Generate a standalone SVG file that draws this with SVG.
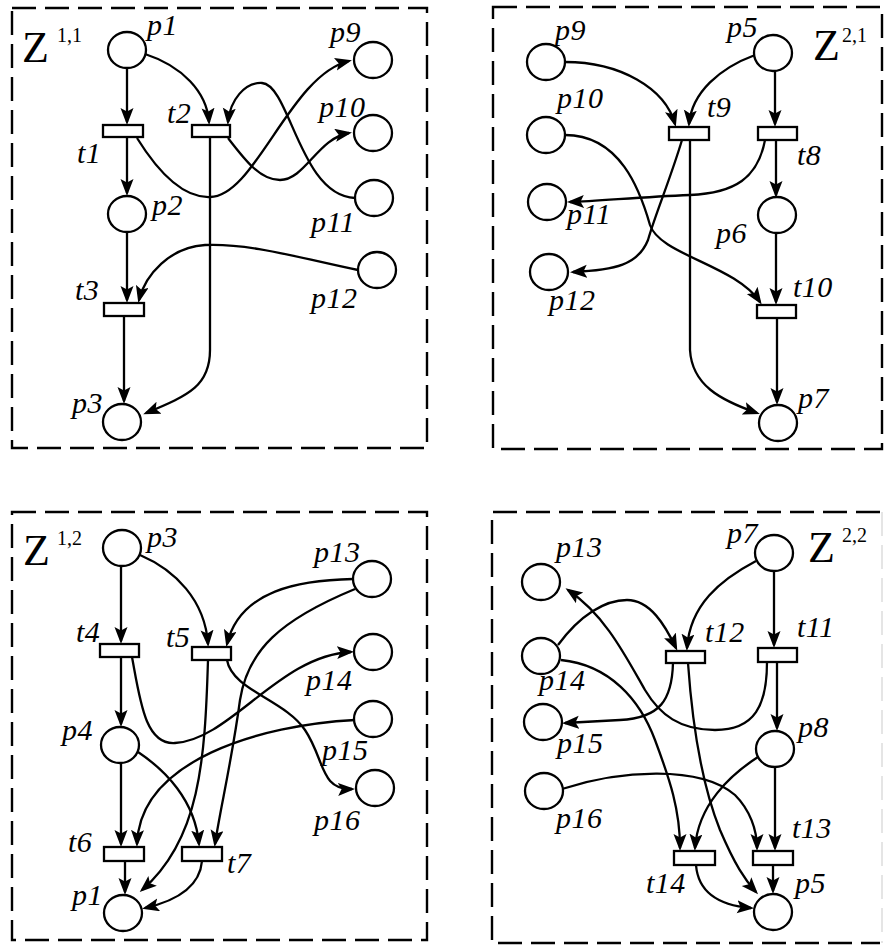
<svg xmlns="http://www.w3.org/2000/svg" width="885" height="946" viewBox="0 0 885 946">
<defs>
<style>
.b{fill:none;stroke:#000;stroke-width:2.4;stroke-dasharray:24 9}
.pl{fill:#fff;stroke:#000;stroke-width:2.3}
.tr{fill:#fff;stroke:#000;stroke-width:2.3}
.c path{fill:none;stroke:#000;stroke-width:2.3;marker-end:url(#ah)}
.l{font-family:"Liberation Serif",serif;font-style:italic;font-size:30px;letter-spacing:0.5px}
.z{font-family:"Liberation Serif",serif;font-size:44px}
.s{font-family:"Liberation Serif",serif;font-size:20px}
</style>
<marker id="ah" markerUnits="userSpaceOnUse" markerWidth="18" markerHeight="14" refX="14" refY="6.5" orient="auto">
<path d="M0,0 L17,6.5 L0,13 L3.5,6.5 z" fill="#000"/>
</marker>
</defs>
<rect fill="#fff" x="0" y="0" width="885" height="946"/>
<g id="borders">
<rect class="b" x="12" y="8" width="415" height="440"/>
<rect class="b" x="493" y="7" width="389" height="442"/>
<rect class="b" x="12" y="512" width="415" height="428"/>
<path class="b" d="M880,512 L492,512 L492,943 L880,943"/>
<line x1="882" y1="512" x2="882" y2="943" stroke="#ddd" stroke-width="1.5" stroke-dasharray="24 9"/>
</g>
<g id="connectors" class="c">
<path d="M127,68 L127,122"/>
<path d="M145,54 C182,66 207,92 209,122"/>
<path d="M355,198 C300,196 290,85 262,83 C245,82 230,100 228,122"/>
<path d="M137,138 C160,175 185,198 210,197 C255,197 290,75 349,61"/>
<path d="M228,138 C245,160 260,180 280,180 C305,180 318,138 349,133"/>
<path d="M127,137 L127,193"/>
<path d="M210,137 L210,350 C210,385 190,395 146,413"/>
<path d="M127,232 L127,300"/>
<path d="M358,270 C300,258 250,243 205,245 C170,247 145,275 139,300"/>
<path d="M124,316 L124,401"/>
<path d="M565,62 C620,62 665,88 675,124"/>
<path d="M755,55 C720,68 692,92 689,124"/>
<path d="M775,71 L775,124"/>
<path d="M776,140 L776,195"/>
<path d="M765,140 C758,178 735,193 690,195 C640,197 600,201 570,202"/>
<path d="M682,140 C670,180 655,215 648,240 C638,265 615,270 573,272"/>
<path d="M565,135 C620,135 640,190 650,225 C660,255 735,265 760,302"/>
<path d="M690,140 L690,350 C692,385 720,400 757,413"/>
<path d="M776,233 L776,302"/>
<path d="M777,318 L777,402"/>
<path d="M121,566 L121,641"/>
<path d="M140,555 C175,570 205,600 208,644"/>
<path d="M353,579 C300,580 240,590 227,644"/>
<path d="M121,657 L121,724"/>
<path d="M132,657 C140,700 145,745 175,743 C230,740 280,655 351,652"/>
<path d="M227,660 C232,690 285,700 305,730 C325,760 320,790 352,789"/>
<path d="M355,720 C260,725 140,760 137,844"/>
<path d="M208,660 C205,760 200,840 142,890"/>
<path d="M355,589 C280,620 248,650 240,700 C232,760 220,810 215,844"/>
<path d="M121,763 L121,844"/>
<path d="M138,752 C165,770 195,800 199,844"/>
<path d="M125,861 L125,892"/>
<path d="M202,861 C200,885 180,900 145,908"/>
<path d="M756,561 C720,580 690,605 687,648"/>
<path d="M774,571 L774,645"/>
<path d="M777,662 L777,728"/>
<path d="M558,645 C580,615 605,600 627,600 C650,600 665,625 676,648"/>
<path d="M767,662 C767,705 755,730 715,730 C680,730 660,715 645,690 C625,655 605,615 568,590"/>
<path d="M561,660 C610,665 640,700 655,740 C670,780 680,810 680,848"/>
<path d="M673,663 C672,700 660,718 620,720 C600,721 585,722 565,723"/>
<path d="M688,663 C692,720 700,780 720,830 C735,865 745,880 756,892"/>
<path d="M758,757 C730,775 698,805 695,848"/>
<path d="M775,766 L775,848"/>
<path d="M562,789 C620,770 700,765 735,795 C750,810 757,830 757,848"/>
<path d="M773,865 L773,891"/>
<path d="M696,865 C698,890 715,905 751,908"/>
</g>
<g id="Z11"><text class="z" x="22" y="62">Z</text><text class="s" x="57" y="42">1,1</text></g>
<g id="q1p1"><ellipse class="pl" cx="127" cy="50" rx="19" ry="18"/><text class="l" x="147" y="35">p1</text></g>
<g id="q1t1"><rect class="tr" x="103" y="125" width="40" height="12"/><text class="l" x="77" y="163">t1</text></g>
<g id="q1t2"><rect class="tr" x="192" y="125" width="38" height="12"/><text class="l" x="167" y="123">t2</text></g>
<g id="q1p2"><ellipse class="pl" cx="127" cy="214" rx="19" ry="18"/><text class="l" x="152" y="215">p2</text></g>
<g id="q1p9"><ellipse class="pl" cx="373" cy="60" rx="19" ry="18"/><text class="l" x="330" y="42">p9</text></g>
<g id="q1p10"><ellipse class="pl" cx="373" cy="133" rx="19" ry="18"/><text class="l" x="319" y="117">p10</text></g>
<g id="q1p11"><ellipse class="pl" cx="374" cy="198" rx="19" ry="18"/><text class="l" x="311" y="232">p11</text></g>
<g id="q1t3"><rect class="tr" x="104" y="303" width="40" height="13"/><text class="l" x="75" y="300">t3</text></g>
<g id="q1p12"><ellipse class="pl" cx="377" cy="270" rx="19" ry="18"/><text class="l" x="311" y="308">p12</text></g>
<g id="q1p3"><ellipse class="pl" cx="122" cy="422" rx="19" ry="18"/><text class="l" x="72" y="413">p3</text></g>
<g id="Z21"><text class="z" x="813" y="60">Z</text><text class="s" x="842" y="42">2,1</text></g>
<g id="q2p9"><ellipse class="pl" cx="546" cy="62" rx="19" ry="18"/><text class="l" x="555" y="40">p9</text></g>
<g id="q2p10"><ellipse class="pl" cx="546" cy="135" rx="19" ry="18"/><text class="l" x="557" y="108">p10</text></g>
<g id="q2p11"><ellipse class="pl" cx="547" cy="202" rx="19" ry="18"/><text class="l" x="567" y="224">p11</text></g>
<g id="q2p12"><ellipse class="pl" cx="549" cy="272" rx="19" ry="18"/><text class="l" x="549" y="310">p12</text></g>
<g id="q2p5"><ellipse class="pl" cx="773" cy="53" rx="19" ry="18"/><text class="l" x="727" y="37">p5</text></g>
<g id="q2t9"><rect class="tr" x="669" y="127" width="40" height="13"/><text class="l" x="707" y="117">t9</text></g>
<g id="q2t8"><rect class="tr" x="758" y="127" width="39" height="13"/><text class="l" x="797" y="165">t8</text></g>
<g id="q2p6"><ellipse class="pl" cx="777" cy="215" rx="19" ry="18"/><text class="l" x="716" y="243">p6</text></g>
<g id="q2t10"><rect class="tr" x="757" y="305" width="39" height="13"/><text class="l" x="793" y="297">t10</text></g>
<g id="q2p7"><ellipse class="pl" cx="778" cy="423" rx="19" ry="18"/><text class="l" x="798" y="408">p7</text></g>
<g id="Z12"><text class="z" x="23" y="565">Z</text><text class="s" x="57" y="545">1,2</text></g>
<g id="q3p3"><ellipse class="pl" cx="122" cy="548" rx="19" ry="18"/><text class="l" x="147" y="547">p3</text></g>
<g id="q3t4"><rect class="tr" x="100" y="644" width="39" height="13"/><text class="l" x="76" y="642">t4</text></g>
<g id="q3t5"><rect class="tr" x="192" y="647" width="39" height="13"/><text class="l" x="166" y="647">t5</text></g>
<g id="q3p13"><ellipse class="pl" cx="372" cy="579" rx="19" ry="18"/><text class="l" x="314" y="562">p13</text></g>
<g id="q3p14"><ellipse class="pl" cx="373" cy="652" rx="19" ry="18"/><text class="l" x="306" y="690">p14</text></g>
<g id="q3p15"><ellipse class="pl" cx="373" cy="719" rx="19" ry="18"/><text class="l" x="322" y="760">p15</text></g>
<g id="q3p4"><ellipse class="pl" cx="120" cy="745" rx="19" ry="18"/><text class="l" x="62" y="740">p4</text></g>
<g id="q3p16"><ellipse class="pl" cx="375" cy="788" rx="19" ry="18"/><text class="l" x="314" y="830">p16</text></g>
<g id="q3t6"><rect class="tr" x="104" y="847" width="40" height="14"/><text class="l" x="68" y="852">t6</text></g>
<g id="q3t7"><rect class="tr" x="182" y="847" width="40" height="14"/><text class="l" x="227" y="873">t7</text></g>
<g id="q3p1"><ellipse class="pl" cx="123" cy="913" rx="19" ry="18"/><text class="l" x="72" y="905">p1</text></g>
<g id="Z22"><text class="z" x="808" y="562">Z</text><text class="s" x="842" y="542">2,2</text></g>
<g id="q4p7"><ellipse class="pl" cx="774" cy="553" rx="19" ry="18"/><text class="l" x="727" y="543">p7</text></g>
<g id="q4p13"><ellipse class="pl" cx="541" cy="582" rx="19" ry="18"/><text class="l" x="556" y="557">p13</text></g>
<g id="q4p14"><ellipse class="pl" cx="541" cy="656" rx="19" ry="18"/><text class="l" x="539" y="690">p14</text></g>
<g id="q4t12"><rect class="tr" x="666" y="651" width="39" height="12"/><text class="l" x="705" y="642">t12</text></g>
<g id="q4t11"><rect class="tr" x="758" y="648" width="39" height="14"/><text class="l" x="797" y="637">t11</text></g>
<g id="q4p15"><ellipse class="pl" cx="543" cy="722" rx="19" ry="18"/><text class="l" x="557" y="753">p15</text></g>
<g id="q4p8"><ellipse class="pl" cx="775" cy="749" rx="19" ry="18"/><text class="l" x="798" y="737">p8</text></g>
<g id="q4p16"><ellipse class="pl" cx="544" cy="791" rx="19" ry="18"/><text class="l" x="556" y="828">p16</text></g>
<g id="q4t14"><rect class="tr" x="674" y="851" width="41" height="14"/><text class="l" x="646" y="893">t14</text></g>
<g id="q4t13"><rect class="tr" x="753" y="851" width="40" height="14"/><text class="l" x="792" y="838">t13</text></g>
<g id="q4p5"><ellipse class="pl" cx="773" cy="912" rx="19" ry="18"/><text class="l" x="795" y="893">p5</text></g>
</svg>
